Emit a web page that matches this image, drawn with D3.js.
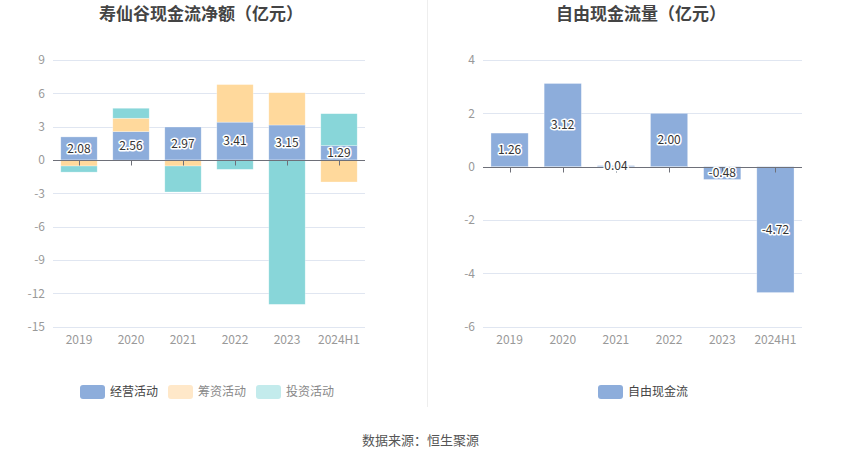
<!DOCTYPE html>
<html>
<head>
<meta charset="utf-8">
<script src="https://cdn.jsdelivr.net/npm/d3@7"></script>
<style>
  body { margin: 0; background: #fff; }
  svg { display: block; font-family: "Noto Sans CJK SC", "Noto Sans", sans-serif; }
</style>
</head>
<body>
<div id="chart"></div>
<script>
const width = 850;
const height = 459;

// data
const years = ["2019", "2020", "2021", "2022", "2023", "2024H1"];
const operating = [2.08, 2.56, 2.97, 3.41, 3.15, 1.29];
const financing = [-0.54, 1.2, -0.54, 3.38, 2.91, -1.98];
const investing = [-0.55, 0.9, -2.34, -0.84, -12.99, 2.88];
const freeCash = [1.26, 3.12, 0.04, 2.00, -0.48, -4.72];
const leftTicks = [9, 6, 3, 0, -3, -6, -9, -12, -15];
const rightTicks = [4, 2, 0, -2, -4, -6];
const seriesNames = ["经营活动", "筹资活动", "投资活动"];

const barColors = ["#8DADDB", "#FFD99C", "#88D6D9"];
const legendColors = ["#8DADDB", "#FFE8C9", "#C3EBEC"];
const legendText = ["#444", "#888", "#888"];

const svg = d3.select("#chart")
    .append("svg")
    .attr("width", width)
    .attr("height", height);

// divider between the two panels
svg.append("line")
    .attr("x1", 427.5).attr("x2", 427.5)
    .attr("y1", 0).attr("y2", 407)
    .attr("stroke", "#eeeeee");

function drawFrame(g, x, y, ticks, left, right) {
    g.selectAll(".grid")
        .data(ticks.filter(t => t !== 0))
        .enter()
        .append("line")
        .attr("x1", left).attr("x2", right)
        .attr("y1", d => Math.round(y(d)) + 0.5)
        .attr("y2", d => Math.round(y(d)) + 0.5)
        .attr("stroke", "#E0E6F1");

    g.selectAll(".ylab")
        .data(ticks)
        .enter()
        .append("text")
        .attr("x", left - 8)
        .attr("y", d => y(d))
        .attr("dy", "0.35em")
        .attr("text-anchor", "end")
        .attr("font-size", 12)
        .attr("fill", "#999")
        .text(d => d);

    g.selectAll(".xlab")
        .data(years)
        .enter()
        .append("text")
        .attr("x", d => x(d) + x.bandwidth() / 2)
        .attr("y", 340)
        .attr("dy", "0.35em")
        .attr("text-anchor", "middle")
        .attr("font-size", 12)
        .attr("fill", "#999")
        .text(d => d);
}

function drawAxisLine(g, x, y, left, right) {
    const y0 = Math.round(y(0)) + 0.5;
    g.append("line")
        .attr("x1", left).attr("x2", right)
        .attr("y1", y0).attr("y2", y0)
        .attr("stroke", "#6E7079");
    g.selectAll(".tick")
        .data(years)
        .enter()
        .append("line")
        .attr("x1", d => Math.round(x(d) + x.bandwidth() / 2) + 0.5)
        .attr("x2", d => Math.round(x(d) + x.bandwidth() / 2) + 0.5)
        .attr("y1", y0).attr("y2", y0 + 5)
        .attr("stroke", "#6E7079");
}

function label(g, xPos, yPos, txt) {
    g.append("text")
        .attr("x", xPos).attr("y", yPos)
        .attr("dy", "0.35em")
        .attr("text-anchor", "middle")
        .attr("font-size", 12)
        .attr("fill", "#333")
        .attr("stroke", "#fff")
        .attr("stroke-width", 3)
        .attr("stroke-linejoin", "round")
        .attr("paint-order", "stroke")
        .text(txt);
}

function title(txt, cx) {
    svg.append("text")
        .attr("x", cx).attr("y", 14)
        .attr("dy", "0.35em")
        .attr("text-anchor", "middle")
        .attr("font-size", 17)
        .attr("font-weight", "bold")
        .attr("fill", "#444")
        .text(txt);
}

function legendItem(xPos, color, textColor, txt) {
    svg.append("rect")
        .attr("x", xPos).attr("y", 385)
        .attr("width", 25).attr("height", 14)
        .attr("rx", 3)
        .attr("fill", color);
    svg.append("text")
        .attr("x", xPos + 30).attr("y", 392)
        .attr("dy", "0.35em")
        .attr("font-size", 12)
        .attr("fill", textColor)
        .text(txt);
}

// ---- left panel: stacked cash flows ----
const lLeft = 53, lRight = 365;
const xL = d3.scaleBand().domain(years).range([lLeft, lRight]).paddingInner(0.3).paddingOuter(0.15);
const yL = d3.scaleLinear().domain([-15, 9]).range([326.7, 60]);
const gL = svg.append("g");
drawFrame(gL, xL, yL, leftTicks, lLeft, lRight);

const stackRows = years.map((yr, i) => ({ yr, vals: [operating[i], financing[i], investing[i]] }));
stackRows.forEach(row => {
    let pos = 0, neg = 0;
    row.vals.forEach((v, k) => {
        let y0, y1;
        if (v >= 0) { y0 = pos; y1 = pos + v; pos = y1; }
        else { y0 = neg; y1 = neg + v; neg = y1; }
        gL.append("rect")
            .attr("x", xL(row.yr))
            .attr("width", xL.bandwidth())
            .attr("y", yL(Math.max(y0, y1)))
            .attr("height", Math.abs(yL(y0) - yL(y1)))
            .attr("fill", barColors[k])
            .attr("stroke", "#fff")
            .attr("stroke-opacity", 0.5)
            .attr("stroke-width", 0.6);
    });
});
drawAxisLine(gL, xL, yL, lLeft, lRight);
stackRows.forEach(row => {
    label(gL, xL(row.yr) + xL.bandwidth() / 2, yL(row.vals[0] / 2), row.vals[0].toFixed(2));
});

// ---- right panel: free cash flow ----
const rLeft = 483, rRight = 802;
const xR = d3.scaleBand().domain(years).range([rLeft, rRight]).paddingInner(0.3).paddingOuter(0.15);
const yR = d3.scaleLinear().domain([-6, 4]).range([326.7, 60]);
const gR = svg.append("g");
drawFrame(gR, xR, yR, rightTicks, rLeft, rRight);

gR.selectAll(".bar")
    .data(years)
    .enter()
    .append("rect")
    .attr("x", d => xR(d))
    .attr("width", xR.bandwidth())
    .attr("y", (d, i) => yR(Math.max(0, freeCash[i])))
    .attr("height", (d, i) => Math.abs(yR(freeCash[i]) - yR(0)))
    .attr("fill", barColors[0])
    .attr("stroke", "#fff")
    .attr("stroke-opacity", 0.5)
    .attr("stroke-width", 0.6);
drawAxisLine(gR, xR, yR, rLeft, rRight);
years.forEach((yr, i) => {
    label(gR, xR(yr) + xR.bandwidth() / 2, yR(freeCash[i] / 2), freeCash[i].toFixed(2));
});

// titles
title("寿仙谷现金流净额（亿元）", 201);
title("自由现金流量（亿元）", 641);

// legends
const legendX = [80, 168, 256];
seriesNames.forEach((n, k) => legendItem(legendX[k], legendColors[k], legendText[k], n));
legendItem(598, barColors[0], "#444", "自由现金流");

// source
svg.append("text")
    .attr("x", 362).attr("y", 440)
    .attr("dy", "0.35em")
    .attr("font-size", 13)
    .attr("fill", "#555")
    .text("数据来源：恒生聚源");
</script>
</body>
</html>
